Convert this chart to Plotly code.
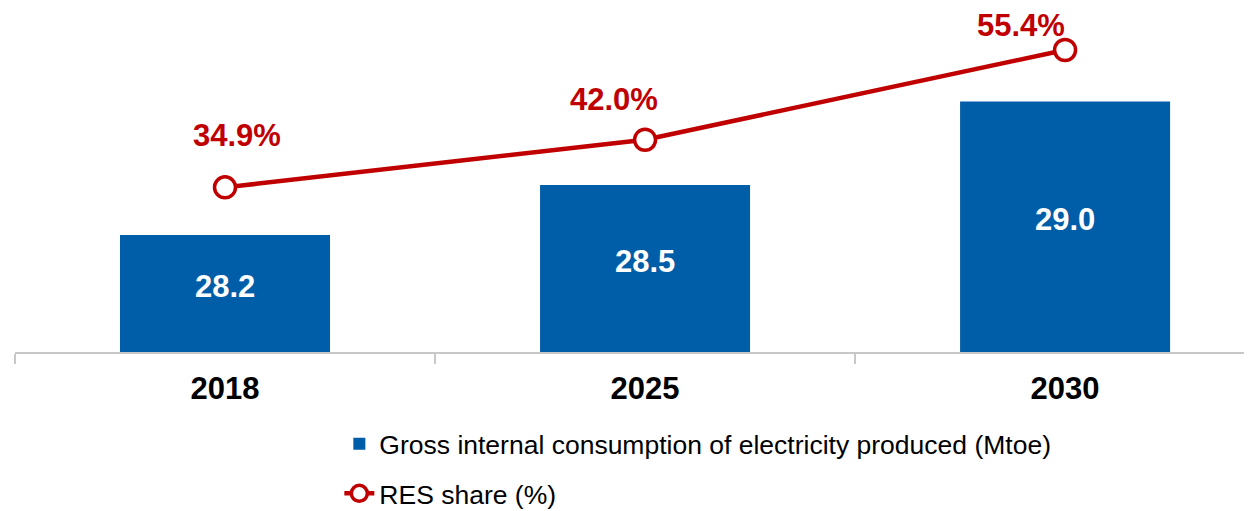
import plotly.graph_objects as go

# ---- data ----
years = ["2018", "2025", "2030"]
consumption_mtoe = [28.2, 28.5, 29.0]
res_share_pct = [34.9, 42.0, 55.4]

# ---- styles ----
BAR_COLOR = "#005DA8"
LINE_COLOR = "#C00000"
AXIS_COLOR = "#C8C8C8"
FONT = "Liberation Sans, Arial, sans-serif"
Y1_RANGE = [27.5, 29.548]
Y2_RANGE = [10.33, 61.37]
label_xshift = [12, -31, -44]
label_yshift = [52, 40, 25]

fig = go.Figure()

fig.add_trace(go.Bar(
    x=years, y=consumption_mtoe,
    name="Gross internal consumption of electricity produced (Mtoe)",
    marker=dict(color=BAR_COLOR, line=dict(width=0)),
    width=0.5,
    legendgroup="a",
))

fig.add_trace(go.Scatter(
    x=years, y=res_share_pct, yaxis="y2",
    name="RES share (%)",
    mode="lines+markers",
    line=dict(color=LINE_COLOR, width=4.5),
    marker=dict(symbol="circle", size=21, color="white",
                line=dict(color=LINE_COLOR, width=3.5)),
    legendgroup="b",
))

annotations = []
# bar value labels, centred in the visible part of each bar
for i, v in enumerate(consumption_mtoe):
    annotations.append(dict(
        x=i, y=(v + Y1_RANGE[0]) / 2, xref="x", yref="y",
        text=f"<b>{v:.1f}</b>", showarrow=False, yshift=7, borderpad=0,
        font=dict(family=FONT, size=31, color="white"),
    ))
# RES share labels
for i, v in enumerate(res_share_pct):
    annotations.append(dict(
        x=i, y=v, xref="x", yref="y2",
        text=f"<b>{v:.1f}%</b>", showarrow=False, borderpad=0,
        xshift=label_xshift[i], yshift=label_yshift[i],
        font=dict(family=FONT, size=31, color=LINE_COLOR),
    ))

hidden_axis = dict(showgrid=False, zeroline=False, showline=False,
                   showticklabels=False, ticks="")

# the page body adds an 8px offset on the left and top
fig.update_layout(
    width=1244, height=503,
    margin=dict(l=7, r=0, t=2, b=159, autoexpand=False),
    paper_bgcolor="white", plot_bgcolor="white",
    font=dict(family=FONT, color="black"),
    showlegend=True,
    annotations=annotations,
    legend=dict(
        orientation="v", x=0.2622, xanchor="left", y=-0.1992, yanchor="top",
        font=dict(family=FONT, size=26.5, color="black"),
        traceorder="grouped", tracegroupgap=12,
        bgcolor="rgba(0,0,0,0)",
    ),
    xaxis=dict(
        type="category", range=[-0.5, 2.445], automargin=False,
        showline=True, linecolor=AXIS_COLOR, linewidth=2,
        ticks="outside", tickson="boundaries", ticklen=10, tickcolor=AXIS_COLOR, tickwidth=2,
        ticklabelstandoff=8,
        tickfont=dict(family=FONT, size=31, color="black", weight="bold"),
        showgrid=False, zeroline=False,
    ),
    yaxis=dict(range=Y1_RANGE, automargin=False, **hidden_axis),
    yaxis2=dict(range=Y2_RANGE, overlaying="y", side="right", automargin=False,
                **hidden_axis),
)

fig.write_html("out.html")
